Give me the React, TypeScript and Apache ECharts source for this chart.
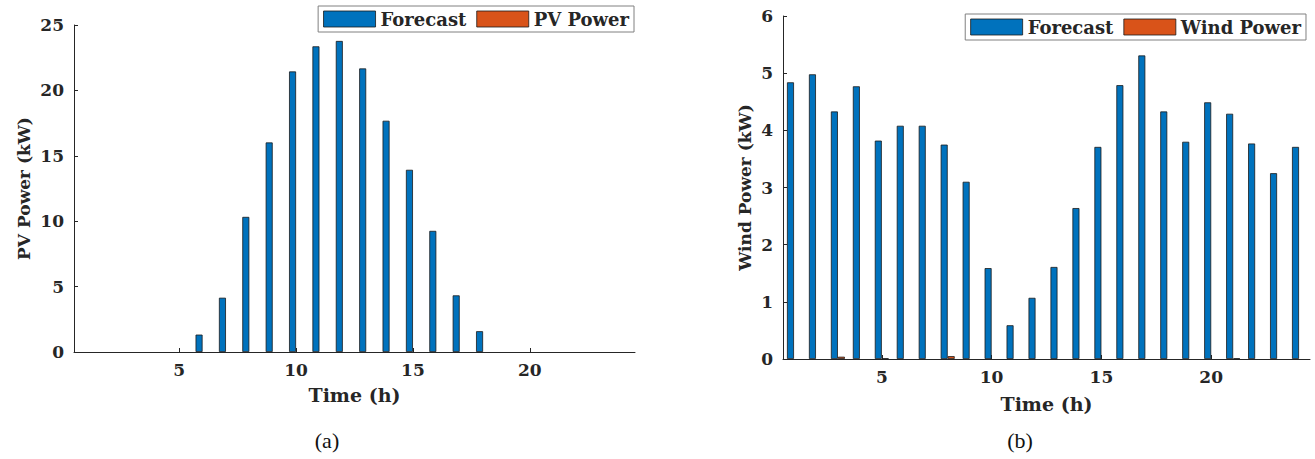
import React, { useEffect, useRef } from "react";
import * as echarts from "echarts";

const hours = Array.from({ length: 24 }, (_, i) => String(i + 1));
const pvForecast = [0, 0, 0, 0, 0, 1.33, 4.15, 10.33, 16.02, 21.45, 23.37, 23.78, 21.68, 17.68, 13.93, 9.26, 4.33, 1.59, 0, 0, 0, 0, 0, 0];
const pvPower = [0, 0, 0, 0, 0, 0, 0, 0, 0, 0, 0, 0, 0, 0, 0, 0, 0, 0, 0, 0, 0, 0, 0, 0];
const windForecast = [4.84, 4.98, 4.33, 4.77, 3.82, 4.08, 4.08, 3.75, 3.1, 1.59, 0.59, 1.07, 1.61, 2.64, 3.71, 4.79, 5.31, 4.33, 3.8, 4.49, 4.29, 3.77, 3.25, 3.71];
const windPower = [0, 0, 0.04, 0, 0.01, 0, 0, 0.05, 0, 0, 0, 0, 0, 0, 0, 0, 0, 0, 0, 0, 0.01, 0, 0, 0];
const xTickLabels = ["5", "10", "15", "20"];

const BLUE = "#0072BD";
const ORANGE = "#D95319";
const INK = "#262626";
const FONT = "DejaVu Serif";

export default function App() {
  const ref = useRef<HTMLDivElement>(null);
  useEffect(() => {
    const chart = echarts.init(ref.current!, null, { renderer: "svg" });
    const showTick = (_i: number, v: string) => xTickLabels.includes(v);
    const xAxis = (gridIndex: number, gap: number) => ({
      type: "category",
      gridIndex,
      data: hours,
      boundaryGap: true,
      name: "Time (h)",
      nameLocation: "middle",
      nameGap: gap,
      nameTextStyle: { fontFamily: FONT, fontWeight: "bold", fontSize: 19, color: INK },
      axisLine: { show: true, lineStyle: { color: INK, width: 1 } },
      axisTick: { show: true, inside: true, length: 4, alignWithLabel: true, interval: showTick, lineStyle: { color: INK } },
      axisLabel: { interval: showTick, margin: 9, fontFamily: FONT, fontWeight: "bold", fontSize: 17, color: INK },
      splitLine: { show: false },
    });
    const yAxis = (gridIndex: number, name: string, max: number, interval: number, gap: number) => ({
      type: "value",
      gridIndex,
      min: 0,
      max,
      interval,
      name,
      nameLocation: "middle",
      nameGap: gap,
      nameTextStyle: { fontFamily: FONT, fontWeight: "bold", fontSize: 17, color: INK },
      axisLine: { show: true, lineStyle: { color: INK, width: 1 } },
      axisTick: { show: true, inside: true, length: 4, lineStyle: { color: INK } },
      axisLabel: { margin: 10, fontFamily: FONT, fontWeight: "bold", fontSize: 17, color: INK },
      splitLine: { show: false },
    });
    const bar = (name: string, data: number[], color: string, xi: number) => ({
      type: "bar",
      name,
      data: data.map((v) => (v === 0 ? { value: 0, itemStyle: { borderWidth: 0 } } : v)),
      xAxisIndex: xi,
      yAxisIndex: xi,
      barWidth: 7,
      barGap: "0%",
      itemStyle: { color, borderColor: "#1a1a1a", borderWidth: 0.8 },
    });
    const legend = (right: number, top: number, data: string[]) => ({
      right,
      top,
      orient: "horizontal",
      width: 600,
      data,
      icon: "rect",
      itemWidth: 52,
      itemHeight: 16,
      itemGap: 10,
      padding: [4, 5],
      borderColor: "#808080",
      borderWidth: 1,
      backgroundColor: "#fff",
      selectedMode: false,
      itemStyle: { borderColor: "#1a1a1a", borderWidth: 0.8 },
      textStyle: { fontFamily: FONT, fontWeight: "bold", fontSize: 18, color: INK },
    });
    chart.setOption({
      animation: false,
      backgroundColor: "#fff",
      grid: [
        { left: 74, top: 25, width: 561, height: 327, containLabel: false },
        { left: 783, top: 16, width: 527, height: 343, containLabel: false },
      ],
      xAxis: [xAxis(0, 33), xAxis(1, 35)],
      yAxis: [yAxis(0, "PV Power (kW)", 25, 5, 42), yAxis(1, "Wind Power (kW)", 6, 1, 30)],
      legend: [legend(681, 6, ["Forecast", "PV Power"]), legend(9, 14, ["Forecast", "Wind Power"])],
      series: [
        bar("Forecast", pvForecast, BLUE, 0),
        bar("PV Power", pvPower, ORANGE, 0),
        bar("Forecast", windForecast, BLUE, 1),
        bar("Wind Power", windPower, ORANGE, 1),
      ],
      graphic: [
        { type: "text", x: 327, y: 440, style: { text: "(a)", fontFamily: "Liberation Serif", fontSize: 22, fill: "#111", align: "center", verticalAlign: "middle" } },
        { type: "text", x: 1020, y: 440, style: { text: "(b)", fontFamily: "Liberation Serif", fontSize: 22, fill: "#111", align: "center", verticalAlign: "middle" } },
      ],
    });
    return () => chart.dispose();
  }, []);
  return <div ref={ref} style={{ position: "absolute", left: 0, top: 0, width: 1315, height: 459 }} />;
}
